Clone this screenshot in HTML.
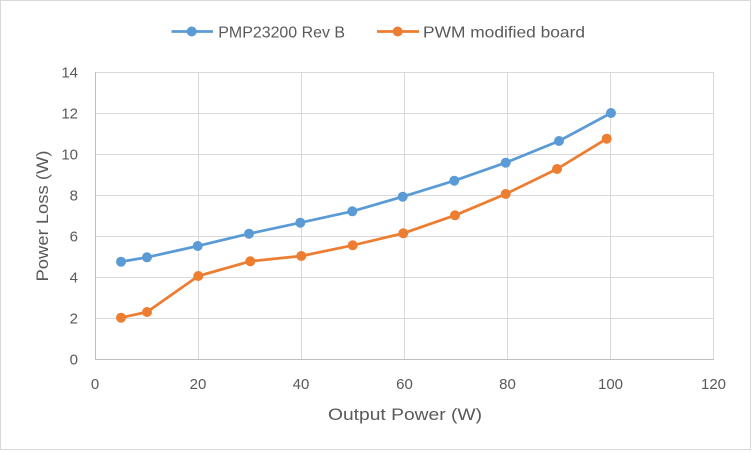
<!DOCTYPE html>
<html>
<head>
<meta charset="utf-8">
<style>
  html, body { margin:0; padding:0; background:#fff; }
  svg { display:block; }
  text { font-family: "Liberation Sans", sans-serif; fill:#595959; }
</style>
</head>
<body>
<svg width="752" height="452" viewBox="0 0 752 452" xmlns="http://www.w3.org/2000/svg">
  <rect x="0" y="0" width="752" height="452" fill="#fff"/>
  <rect x="0.5" y="0.5" width="750" height="449" fill="#fff" stroke="#d9d9d9" stroke-width="1"/>

  <!-- horizontal gridlines -->
  <g stroke="#d9d9d9" stroke-width="1">
    <line x1="95" y1="318.5" x2="714" y2="318.5"/>
    <line x1="95" y1="277.5" x2="714" y2="277.5"/>
    <line x1="95" y1="236.5" x2="714" y2="236.5"/>
    <line x1="95" y1="195.5" x2="714" y2="195.5"/>
    <line x1="95" y1="154.5" x2="714" y2="154.5"/>
    <line x1="95" y1="113.5" x2="714" y2="113.5"/>
    <line x1="95" y1="72.5" x2="714" y2="72.5"/>
    <!-- vertical gridlines -->
    <line x1="198.5" y1="72" x2="198.5" y2="359"/>
    <line x1="301.5" y1="72" x2="301.5" y2="359"/>
    <line x1="404.5" y1="72" x2="404.5" y2="359"/>
    <line x1="507.5" y1="72" x2="507.5" y2="359"/>
    <line x1="610.5" y1="72" x2="610.5" y2="359"/>
    <line x1="713.5" y1="72" x2="713.5" y2="359"/>
  </g>
  <!-- axes -->
  <g stroke="#bfbfbf" stroke-width="1">
    <line x1="95.5" y1="72" x2="95.5" y2="359.5"/>
    <line x1="95" y1="359.5" x2="714" y2="359.5"/>
  </g>

  <!-- y tick labels -->
  <g font-size="15" text-anchor="end">
    <text x="78" y="364.5">0</text>
    <text x="78" y="323.5">2</text>
    <text x="78" y="282.5">4</text>
    <text x="78" y="241.5">6</text>
    <text x="78" y="200.5">8</text>
    <text x="78" y="159.5">10</text>
    <text x="78" y="118.5">12</text>
    <text x="78" y="77.5">14</text>
  </g>
  <!-- x tick labels -->
  <g font-size="15" text-anchor="middle">
    <text x="95" y="389">0</text>
    <text x="198" y="389">20</text>
    <text x="301" y="389">40</text>
    <text x="404.5" y="389">60</text>
    <text x="507.5" y="389">80</text>
    <text x="610.5" y="389">100</text>
    <text x="713.5" y="389">120</text>
  </g>

  <!-- axis titles -->
  <text x="405" y="420" font-size="17" text-anchor="middle" textLength="154" lengthAdjust="spacingAndGlyphs">Output Power (W)</text>
  <text transform="translate(48,216) rotate(-90)" x="0" y="0" font-size="17" text-anchor="middle" textLength="131" lengthAdjust="spacingAndGlyphs">Power Loss (W)</text>

  <!-- series: PMP23200 Rev B -->
  <polyline fill="none" stroke="#5B9BD5" stroke-width="2.75" stroke-linejoin="round"
    points="121,261.7 147,257.3 197.7,246 249,233.7 300.3,222.7 352.3,211.3 402.7,196.7 454.3,180.7 505.7,162.7 559,141 611,113"/>
  <g fill="#5B9BD5">
    <circle cx="121" cy="261.7" r="5"/>
    <circle cx="147" cy="257.3" r="5"/>
    <circle cx="197.7" cy="246" r="5"/>
    <circle cx="249" cy="233.7" r="5"/>
    <circle cx="300.3" cy="222.7" r="5"/>
    <circle cx="352.3" cy="211.3" r="5"/>
    <circle cx="402.7" cy="196.7" r="5"/>
    <circle cx="454.3" cy="180.7" r="5"/>
    <circle cx="505.7" cy="162.7" r="5"/>
    <circle cx="559" cy="141" r="5"/>
    <circle cx="611" cy="113" r="5"/>
  </g>

  <!-- series: PWM modified board -->
  <polyline fill="none" stroke="#ED7D31" stroke-width="2.75" stroke-linejoin="round"
    points="121,317.7 147,312 198.3,276 250.3,261.3 301.3,256 352.7,245.3 403.3,233.3 455,215.3 505.7,194 557,169 606.7,138.7"/>
  <g fill="#ED7D31">
    <circle cx="121" cy="317.7" r="5"/>
    <circle cx="147" cy="312" r="5"/>
    <circle cx="198.3" cy="276" r="5"/>
    <circle cx="250.3" cy="261.3" r="5"/>
    <circle cx="301.3" cy="256" r="5"/>
    <circle cx="352.7" cy="245.3" r="5"/>
    <circle cx="403.3" cy="233.3" r="5"/>
    <circle cx="455" cy="215.3" r="5"/>
    <circle cx="505.7" cy="194" r="5"/>
    <circle cx="557" cy="169" r="5"/>
    <circle cx="606.7" cy="138.7" r="5"/>
  </g>

  <!-- legend -->
  <line x1="171.5" y1="31.5" x2="213" y2="31.5" stroke="#5B9BD5" stroke-width="2.75"/>
  <circle cx="191.7" cy="31.5" r="5" fill="#5B9BD5"/>
  <text x="218.3" y="37.3" font-size="16" textLength="126.7" lengthAdjust="spacingAndGlyphs">PMP23200 Rev B</text>

  <line x1="377" y1="31.5" x2="419" y2="31.5" stroke="#ED7D31" stroke-width="2.75"/>
  <circle cx="397.7" cy="31.5" r="5" fill="#ED7D31"/>
  <text x="423" y="37.3" font-size="16" textLength="162" lengthAdjust="spacingAndGlyphs">PWM modified board</text>
</svg>
</body>
</html>
